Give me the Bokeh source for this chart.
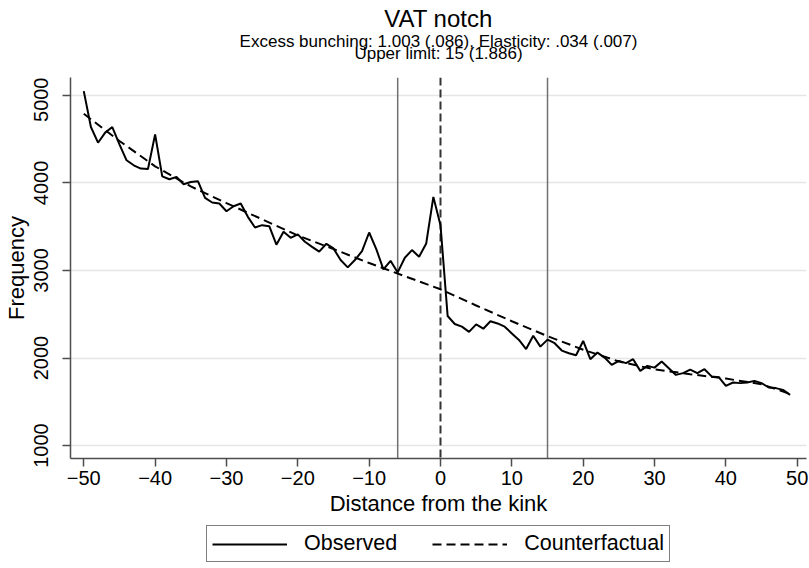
from bokeh.plotting import figure
from bokeh.layouts import column
from bokeh.models import Span, Legend, LegendItem, FixedTicker, Range1d
from bokeh.core.properties import value
from bokeh.embed import file_html
from bokeh.resources import INLINE

# ---------------- data ----------------
bins = list(range(-50, 50))
observed = [
    5049, 4639, 4460, 4575, 4639, 4441, 4259, 4202, 4164, 4160,   # -50..-41
    4555, 4076, 4042, 4068, 3985, 4011, 4020, 3830, 3777, 3765,   # -40..-31
    3677, 3734, 3765, 3613, 3491, 3518, 3506, 3295, 3442, 3373,   # -30..-21
    3412, 3328, 3270, 3215, 3305, 3252, 3119, 3035, 3119, 3221,   # -20..-11
    3434, 3244, 3012, 3111, 2978, 3145, 3233, 3157, 3309, 3841,   # -10..-1
    3518, 2480, 2389, 2358, 2298, 2385, 2335, 2420, 2395, 2358,   # 0..9
    2280, 2206, 2102, 2254, 2130, 2210, 2169, 2085, 2055, 2032,   # 10..19
    2195, 1986, 2062, 2005, 1921, 1967, 1941, 1986, 1853, 1910,   # 20..29
    1890, 1959, 1884, 1807, 1827, 1868, 1827, 1872, 1790, 1781,   # 30..39
    1682, 1720, 1713, 1720, 1739, 1713, 1663, 1656, 1636, 1579,   # 40..49
]
cf_bins = [-50, -45, -40, -35, -30, -25, -20, -15, -10, -5, 0,
           5, 10, 15, 20, 25, 30, 35, 40, 45, 49]
counterfactual = [4790, 4480, 4190, 3960, 3770, 3585, 3400, 3245, 3085, 2935, 2785,
                  2600, 2420, 2250, 2095, 1960, 1870, 1815, 1765, 1700, 1590]
x_ticks = [-50, -40, -30, -20, -10, 0, 10, 20, 30, 40, 50]
x_tick_labels = ["\u221250", "\u221240", "\u221230", "\u221220", "\u221210", "0",
                 "10", "20", "30", "40", "50"]
y_ticks = [1000, 2000, 3000, 4000, 5000]
y_tick_labels = ["1000", "2000", "3000", "4000", "5000"]
lower_limit = -6
notch_point = 0
upper_limit = 15

title_text = "VAT notch"
subtitle_1 = "Excess bunching: 1.003 (.086), Elasticity: .034 (.007)"
subtitle_2 = "Upper limit: 15 (1.886)"
legend_labels = ["Observed", "Counterfactual"]

FONT = "Liberation Sans"


def bare(fig):
    fig.axis.visible = False
    fig.grid.visible = False
    fig.outline_line_color = None
    fig.background_fill_color = "white"
    fig.border_fill_color = "white"


# ---------------- title strip ----------------
t = figure(width=809, height=77, title=None, x_range=Range1d(0, 1), y_range=Range1d(77, 0),
           output_backend="svg", toolbar_location=None,
           min_border_left=0, min_border_right=0, min_border_top=0, min_border_bottom=0)
bare(t)
t.text(x=[0.5], y=[18], text=[title_text], text_align="center",
       text_baseline="alphabetic", text_font=value(FONT),
       text_font_size=value("24px"), text_color="black")
t.text(x=[0.5, 0.5], y=[40.8, 52.8], text=[subtitle_1, subtitle_2], text_align="center",
       text_baseline="alphabetic", text_font=value(FONT),
       text_font_size=value("17px"), text_color="black")

# ---------------- main figure ----------------
p = figure(width=809, height=441, title=None,
           x_range=Range1d(-51.86, 51.3), y_range=Range1d(851.8, 5205),
           output_backend="svg", toolbar_location=None,
           min_border_left=70, min_border_right=3,
           min_border_top=0, min_border_bottom=59)
p.outline_line_color = None
p.background_fill_color = "white"
p.border_fill_color = "white"

for ax in (p.xaxis[0], p.yaxis[0]):
    ax.axis_line_color = "#4d4d4d"
    ax.axis_line_width = 1.5
    ax.major_tick_line_color = "#4d4d4d"
    ax.major_tick_line_width = 1.5
    ax.major_tick_out = 8
    ax.major_tick_in = 0
    ax.minor_tick_line_color = None
    ax.major_label_text_font = FONT
    ax.major_label_text_font_size = "20px"
    ax.major_label_text_color = "black"
    ax.axis_label_text_font = FONT
    ax.axis_label_text_font_size = "22px"
    ax.axis_label_text_font_style = "normal"
    ax.axis_label_text_color = "black"

p.xaxis.ticker = FixedTicker(ticks=x_ticks)
p.xaxis.major_label_overrides = dict(zip(x_ticks, x_tick_labels))
p.xaxis.axis_label = "Distance from the kink"
p.xaxis.major_label_standoff = 4
p.xaxis.axis_label_standoff = 3

p.yaxis.ticker = FixedTicker(ticks=y_ticks)
p.yaxis.major_label_overrides = dict(zip(y_ticks, y_tick_labels))
p.yaxis.major_label_orientation = "vertical"
p.yaxis.axis_label = "Frequency"
p.yaxis.major_label_standoff = 14
p.yaxis.axis_label_standoff = 3

p.xgrid.visible = False
p.ygrid.ticker = FixedTicker(ticks=y_ticks)
p.ygrid.grid_line_color = "#e5e5e5"
p.ygrid.grid_line_width = 1.5

# vertical reference lines
p.add_layout(Span(location=lower_limit, dimension="height", line_color="#707070",
                  line_width=1.5, level="underlay"))
p.add_layout(Span(location=upper_limit, dimension="height", line_color="#707070",
                  line_width=1.5, level="underlay"))
p.add_layout(Span(location=notch_point, dimension="height", line_color="#333333",
                  line_width=2, line_dash="8 4", level="underlay"))

# series
obs_style = dict(line_color="black", line_width=2)
cf_style = dict(line_color="black", line_width=2, line_dash="9 5")
p.line(bins, observed, **obs_style)
p.line(cf_bins, counterfactual, **cf_style)

# ---------------- legend strip ----------------
q = figure(width=809, height=50, title=None, x_range=Range1d(0, 1), y_range=Range1d(0, 1),
           output_backend="svg", toolbar_location=None,
           min_border_left=0, min_border_right=0, min_border_top=0, min_border_bottom=0)
bare(q)
# same series, outside this strip's ranges: only their legend glyphs show
lg_obs = q.line(bins, observed, **obs_style)
lg_cf = q.line(cf_bins, counterfactual, **cf_style)

legend = Legend(items=[LegendItem(label=legend_labels[0], renderers=[lg_obs]),
                       LegendItem(label=legend_labels[1], renderers=[lg_cf])],
                orientation="horizontal", location=(136, 6),
                border_line_color="black", border_line_width=1,
                label_text_font=FONT, label_text_font_size="21.5px",
                label_text_color="black",
                glyph_width=75, glyph_height=20, label_standoff=17,
                spacing=35, padding=5, margin=0)
q.add_layout(legend, "center")

layout = column(t, p, q, spacing=0)
open("out.html", "w").write(file_html(layout, INLINE))
